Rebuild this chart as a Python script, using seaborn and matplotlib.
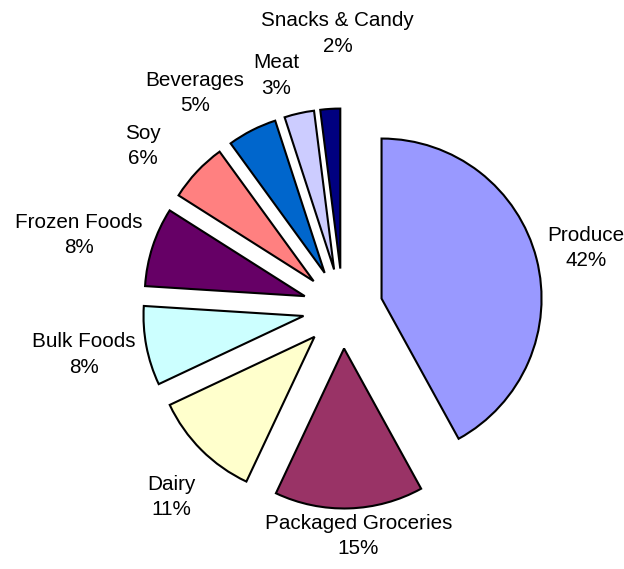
import matplotlib
matplotlib.use("Agg")
import matplotlib.pyplot as plt
import seaborn as sns

# Department share of sales
categories = ["Produce", "Packaged Groceries", "Dairy", "Bulk Foods",
              "Frozen Foods", "Soy", "Beverages", "Meat", "Snacks & Candy"]
shares = [42, 15, 11, 8, 8, 6, 5, 3, 2]

colors = ["#9999FF", "#993366", "#FFFFCC", "#CCFFFF", "#660066",
          "#FF8080", "#0066CC", "#CCCCFF", "#000080"]

# label anchor points (pie radius = 1)
label_xy = [(1.52, 0.378), (0.098, -1.423), (-1.07, -1.179),
            (-1.6175, -0.288), (-1.6487, 0.461), (-1.2487, 1.014),
            (-0.9238, 1.348), (-0.4175, 1.456), (-0.0331, 1.719)]

sns.set_theme(style="white")
plt.rcParams["font.family"] = ["Liberation Sans", "DejaVu Sans"]

W, H, DPI = 624, 569, 100
R_PX = 160.0
CX, CY = 342.8, 308.5

fig = plt.figure(figsize=(W / DPI, H / DPI), dpi=DPI, facecolor="white")
ax = fig.add_axes([0, 0, 1, 1])
ax.set_axis_off()

total = sum(shares)
labels = [f"{c}\n{round(100 * s / total)}%" for c, s in zip(categories, shares)]

wedges, texts = ax.pie(
    shares,
    labels=labels,
    colors=colors,
    explode=[0.25] * len(shares),
    startangle=90,
    counterclock=False,
    radius=1.0,
    wedgeprops=dict(edgecolor="black", linewidth=1.5),
    textprops=dict(fontsize=14.9, color="black", ha="center", va="center",
                   linespacing=1.42),
)
for t, (x, y) in zip(texts, label_xy):
    t.set_position((x, y))
    t.set_horizontalalignment("center")
    t.set_verticalalignment("center")

ax.set_xlim(-CX / R_PX, (W - CX) / R_PX)
ax.set_ylim(-(H - CY) / R_PX, CY / R_PX)
ax.set_aspect("equal", adjustable="datalim")

fig.savefig("out.png", dpi=DPI, facecolor="white")
